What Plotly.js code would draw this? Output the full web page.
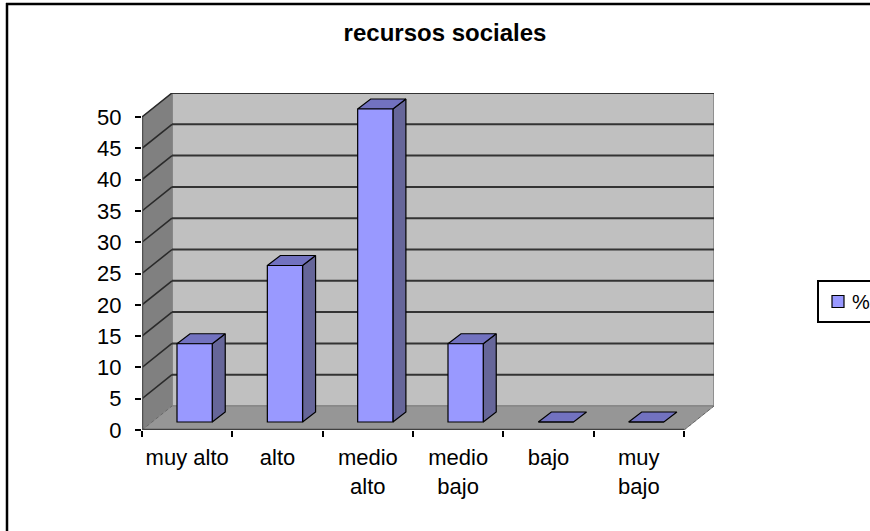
<!DOCTYPE html>
<html><head><meta charset="utf-8">
<script src="https://cdn.plot.ly/plotly-3.0.1.min.js"></script>
<style>html,body{margin:0;padding:0;background:#fff;overflow:hidden}</style>
</head><body><div id="chart" style="width:870px;height:531px"></div>
<script>
const categories = ["muy alto", "alto", "medio<br>alto", "medio<br>bajo", "bajo", "muy<br>bajo"];
const values = [12.5, 25, 50, 12.5, 0, 0];
const yTicks = [0, 5, 10, 15, 20, 25, 30, 35, 40, 45, 50];
const seriesName = "%";
const chartTitle = "recursos sociales";

// plot geometry
const W = 870, H = 531, L = 142, R = 714, T = 93, B = 430;
const catPx = 90.3, unitPx = 6.26;
const wallDx = 30 / catPx, wallDy = 24 / unitPx;
const xMin = -0.5, xEnd = 5.5, yMax = 50;
const barWidth = 0.39, barOffset = -0.1125, barBase = 8 / unitPx;
const depthX = 13 / catPx, depthY = 10 / unitPx;
const xRange = [xMin, xEnd + wallDx], yRange = [0, yMax + wallDy];
const px = v => (v - L) / (R - L), py = v => (B - v) / (B - T);

function poly(name, xs, ys, fill, line, width, dash) {
  return {type: "scatter", mode: "lines", x: xs, y: ys, xaxis: "x", yaxis: "y",
    fill: fill ? "toself" : "none", fillcolor: fill || undefined,
    line: {color: line, width: width, dash: dash || "solid"}, showlegend: false, hoverinfo: "skip", name: name};
}

const sideX = [], sideY = [], topX = [], topY = [];
values.forEach((v, i) => {
  const l = i + barOffset, r = l + barWidth, b = barBase, t = barBase + v;
  if (v > 0) {
    sideX.push(r, r + depthX, r + depthX, r, r, null);
    sideY.push(b, b + depthY, t + depthY, t, b, null);
  }
  topX.push(l, r, r + depthX, l + depthX, l, null);
  topY.push(t, t, t + depthY, t + depthY, t, null);
});

const backGridX = [], backGridY = [], sideGridX = [], sideGridY = [];
yTicks.slice(1).forEach(t => {
  backGridX.push(xMin + wallDx, xEnd + wallDx, null);
  backGridY.push(t + wallDy, t + wallDy, null);
  sideGridX.push(xMin, xMin + wallDx, null);
  sideGridY.push(t, t + wallDy, null);
});

const traces = [
  poly("backwall", [xMin + wallDx, xEnd + wallDx, xEnd + wallDx, xMin + wallDx, xMin + wallDx],
       [wallDy, wallDy, yMax + wallDy, yMax + wallDy, wallDy], "#C0C0C0", "#808080", 1.5),
  poly("sidewall", [xMin, xMin + wallDx, xMin + wallDx, xMin, xMin],
       [0, wallDy, yMax + wallDy, yMax, 0], "#808080", "#808080", 1),
  poly("floor", [xMin, xEnd, xEnd + wallDx, xMin + wallDx, xMin],
       [0, 0, wallDy, wallDy, 0], "#969696", "#808080", 1),
  poly("floordashL", [xMin, xMin + wallDx], [0, wallDy], null, "#6a6a6a", 1, "3px,3px"),
  poly("floordashR", [xEnd, xEnd + wallDx], [0, wallDy], null, "#6a6a6a", 1, "3px,3px"),
  poly("backgrid", backGridX, backGridY, null, "#333333", 2),
  poly("sidegrid", sideGridX, sideGridY, null, "#2a2a2a", 1.6),
  poly("floorfront", [xMin, xEnd], [0, 0], null, "#404040", 2.5),
  poly("yaxisline", [xMin, xMin], [0, yMax], null, "#505050", 2.5),
  poly("barside", sideX, sideY, "#666699", "#000000", 1.2),
  poly("bartop", topX, topY, "#7272C0", "#000000", 1.2),
  {type: "bar", name: seriesName, x: categories, y: values, base: barBase, width: barWidth, offset: barOffset,
   xaxis: "x2", yaxis: "y", marker: {color: "#9999FF", line: {color: "#000000", width: 1.2}},
   showlegend: true, hoverinfo: "skip"}
];

const font = "Liberation Sans, Arial, sans-serif";
const layout = {
  width: W, height: H, paper_bgcolor: "#fff", plot_bgcolor: "rgba(0,0,0,0)",
  margin: {l: L, r: W - R, t: T, b: H - B, pad: 0, autoexpand: false},
  font: {family: font, size: 22, color: "#000"},
  hovermode: false, bargap: 0,
  title: {text: "<b>" + chartTitle + "</b>", x: 445 / W, xanchor: "center", y: 1 - 33 / H, yanchor: "middle",
          font: {family: font, size: 24, color: "#000"}},
  xaxis: {type: "linear", range: xRange, visible: false, fixedrange: true},
  xaxis2: {type: "category", overlaying: "x", anchor: "y", side: "bottom", range: xRange,
           categoryorder: "array", categoryarray: categories, tickmode: "array",
           tickvals: categories, ticktext: categories, tickson: "boundaries",
           ticks: "outside", ticklen: 6, tickwidth: 2, tickcolor: "#000", showgrid: false, showline: false,
           zeroline: false, tickangle: 0, ticklabelstandoff: 12, fixedrange: true,
           tickfont: {family: font, size: 22, color: "#000"}},
  yaxis: {type: "linear", range: yRange, tickmode: "array", tickvals: yTicks, ticks: "outside", ticklen: 6,
          tickwidth: 2, tickcolor: "#000", showgrid: false, zeroline: false, showline: false,
          ticklabelstandoff: 9, fixedrange: true, tickfont: {family: font, size: 22, color: "#000"}},
  legend: {x: px(817), y: py(280), xanchor: "left", yanchor: "top", bgcolor: "#fff", bordercolor: "#000", borderwidth: 2,
           indentation: -7, font: {family: font, size: 20, color: "#000"}, itemclick: false, itemdoubleclick: false},
  shapes: [
    {type: "line", xref: "paper", yref: "paper", x0: px(7), x1: px(7), y0: py(3), y1: py(H), line: {color: "#000", width: 2.5}},
    {type: "line", xref: "paper", yref: "paper", x0: px(6), x1: px(W), y0: py(4), y1: py(4), line: {color: "#000", width: 2.5}}
  ]
};
Plotly.newPlot("chart", traces, layout, {displayModeBar: false, staticPlot: true}).then(() => {
  const swatch = document.querySelector("#chart .legendpoints");
  if (swatch) swatch.setAttribute("transform", "translate(6,0)");
});
</script></body></html>
